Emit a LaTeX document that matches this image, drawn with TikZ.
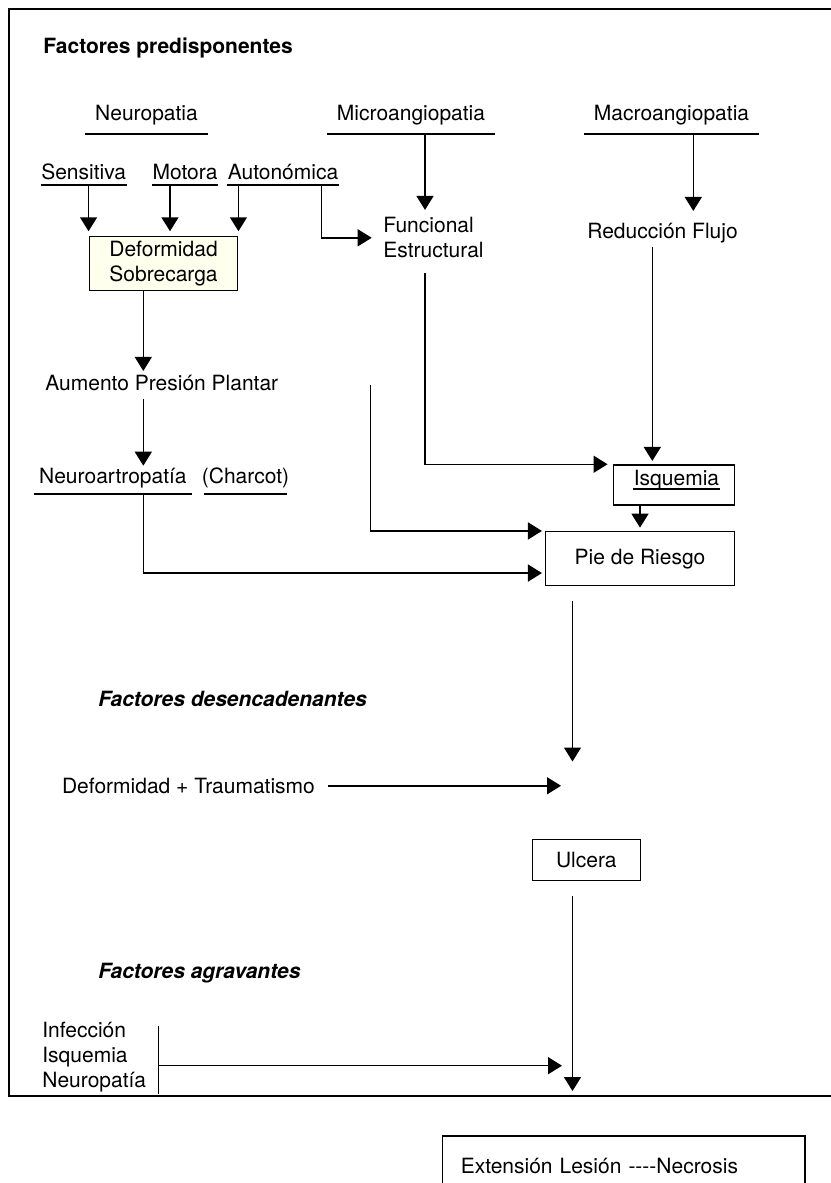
\documentclass[tikz,border=0pt]{standalone}
\usepackage{fontspec}
\setmainfont{TeX Gyre Heros}
\usetikzlibrary{arrows.meta,calc,positioning}

\definecolor{cream}{RGB}{255,255,238}
\newcommand{\hy}{\mbox{-}}

\tikzset{
  txt/.style={inner sep=0pt, font=\fontsize{10.5}{12.5}\selectfont},
  ttl/.style={txt, anchor=base west, font=\fontsize{10.5}{12.5}\selectfont\bfseries},
  ttli/.style={ttl, font=\fontsize{10.5}{12.5}\selectfont\bfseries\itshape},
  box/.style={txt, draw},
  uline/.style={txt, anchor=base, text depth=0pt,
    append after command={(\tikzlastnode.south west) edge (\tikzlastnode.south east)}},
  head/.style={uline, inner xsep=4.5pt, inner ysep=6.2pt},
  sub/.style={uline, inner ysep=2.6pt},
  arr/.style={-{Triangle[length=7pt,width=8.5pt]}},
}

\begin{document}
\begin{tikzpicture}[x=0.5pt,y=-0.5pt,line width=0.75pt]
\useasboundingbox (0,0) rectangle (830,1183);

% frame
\draw[line width=1pt] (850,9) -- (9,9) -- (9,1095.5) -- (850,1095.5);

% Factores predisponentes
\node[ttl] (pred) at (42.7,53) {Factores predisponentes};
\node[head] (neuro) at (146.5,120.7) {Neuropatia};
\node[head] (micro) at (411,120.7) {Microangiopatia};
\node[head] (macro) at (671.5,120.7) {Macroangiopatia};
\node[sub] (sens) at (83.7,179) {Sensitiva};
\node[sub] (mot) at (185,179) {Motora};
\node[sub] (auto) at (283,179) {Autonómica};
\node[box, fill=cream, minimum width=74.2pt, minimum height=27pt, align=center] (defbox) at (163.5,263.7) {Deformidad\\Sobrecarga};
\node[txt, anchor=west, align=left] (fe) at (382.7,237.8) {Funcional\\Estructural};
\node[txt, anchor=base] (red) at (662.5,238) {Reducción Flujo};
\node[txt, anchor=base] (aum) at (161.8,390) {Aumento Presión Plantar};
\node[uline, inner xsep=2.2pt, inner ysep=5.15pt] (nart) at (112.9,483) {Neuroartropatía};
\node[uline, inner xsep=-1.5pt, inner ysep=5.15pt] (charcot) at (245.5,483) {(Charcot)};
\node[box, minimum width=60.5pt, minimum height=20pt] (isq) at (673.8,485) {};
\node[sub, inner ysep=1.3pt] (isqt) at (676.5,485.7) {Isquemia};
\node[box, minimum width=94.3pt, minimum height=27pt] (pie) at (640,558.7) {Pie de Riesgo};
\coordinate (src) at (370.7,385);

% Factores desencadenantes
\node[ttli] (desenc) at (97.5,706) {Factores desencadenantes};
\node[txt, anchor=base west] (dt) at (61.3,793.3) {Deformidad + Traumatismo};
\coordinate (meet1) at (572.5,787.5);
\node[box, minimum width=54pt, minimum height=20.7pt] (ulc) at (586.3,860) {Ulcera};

% Factores agravantes
\node[ttli] (agrav) at (97.5,978) {Factores agravantes};
\node[txt, anchor=north west, align=left] (agr) at (41.6,1021.4) {Infección\\Isquemia\\Neuropatía};
\node[txt, minimum height=33.3pt, anchor=north] (bar) at (158.3,1025.7) {};
\coordinate (meet2) at (572.5,1065.7);
\node[box, anchor=north west, text width=163pt, inner xsep=9.15pt, minimum height=30.35pt, align=left] (ext) at (441.7,1135) {Extensión Lesión \hy\hy\hy\hy Necrosis};

% connectors
\draw[arr, shorten >=2.35pt] (sens.south -| defbox.north west) -- (defbox.north west);
\coordinate (mC) at ($(defbox.north)+(3.25pt,0)$);
\draw[arr, shorten >=2.35pt] (mot.south -| mC) -- (mC);
\draw[arr, shorten >=2.35pt] (auto.south -| defbox.north east) -- (defbox.north east);
\coordinate (aA) at ($(auto.south)+(19.35pt,0)$);
\draw[arr, shorten >=5.5pt] (aA) |- (fe.west);
\coordinate (fx) at ($(micro.south)+(7pt,0)$);
\draw[arr, shorten >=3.4pt] (fx) -- (fx |- fe.north);
\coordinate (mB) at ($(macro.south)+(10.9pt,0)$);
\draw[arr, shorten >=5.5pt] (mB) -- (mB |- red.north);
\coordinate (rA) at ($(red.south)+(-5.1pt,0)$);
\draw[arr, shorten <=2pt, shorten >=1.65pt] (rA) -- (rA |- isq.north);
\draw[arr, shorten <=7pt, shorten >=2.5pt] (fx |- fe.south) |- (isq.north west);
\coordinate (dA) at ($(defbox.south)+(-10.1pt,0)$);
\draw[arr, shorten >=1.5pt] (dA) -- (dA |- aum.north);
\draw[arr, shorten <=4pt, shorten >=8.65pt] (dA |- aum.south) -- (dA |- nart.base);
\draw[arr, shorten >=1.5pt] (dA |- nart.south) |- ([yshift=6.7pt]pie.south west);
\draw[arr, shorten >=1.5pt] (src) |- (pie.north west);
\draw[arr, shorten >=1.65pt] (isq.south -| pie.north) -- (pie.north);
\draw[arr, shorten <=7.15pt, shorten >=13pt] (pie.south -| meet1) -- (meet1);
\draw[arr, shorten <=6.15pt, shorten >=5.75pt] (dt.east) -- (dt.east -| meet1);
\draw (bar.north) -- (bar.south);
\draw[arr, shorten >=5.25pt] (bar.center |- meet2) -- (meet2);
\draw[arr, shorten <=7.15pt] (ulc.south -| meet2) -- ([yshift=-12.65pt]meet2);
\end{tikzpicture}
\end{document}
